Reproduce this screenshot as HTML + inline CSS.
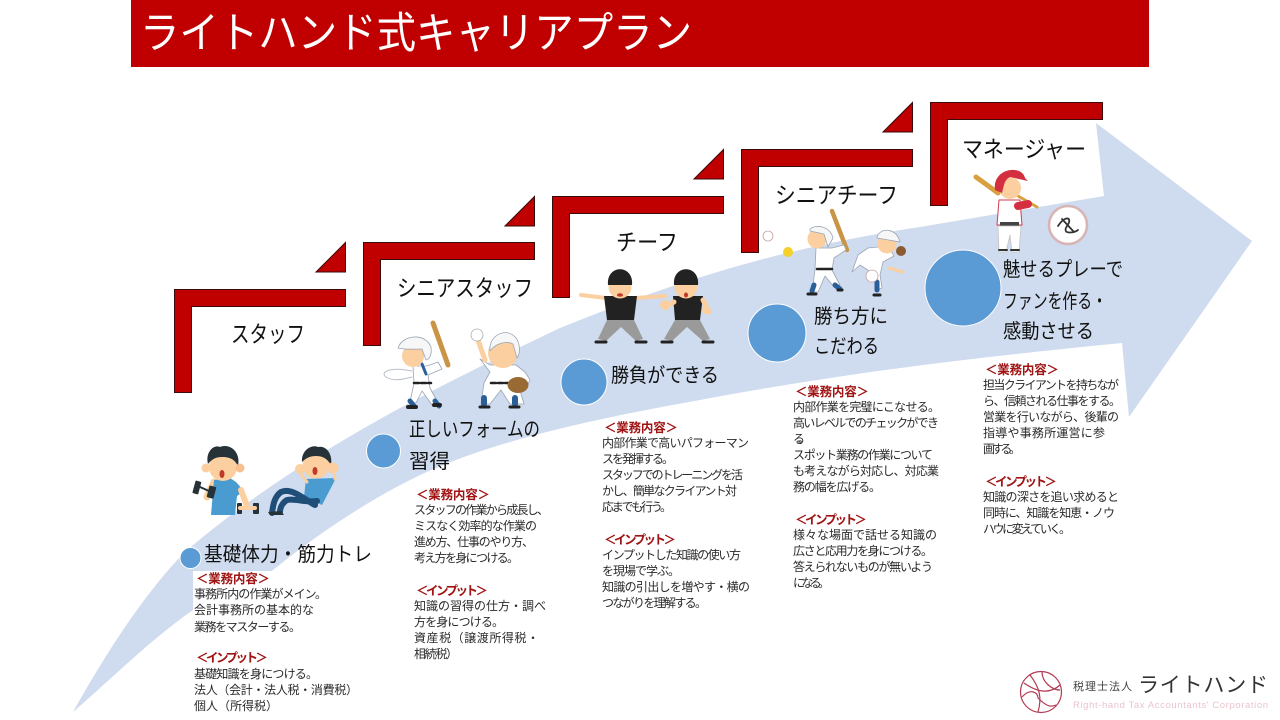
<!DOCTYPE html>
<html lang="ja"><head><meta charset="utf-8"><title>ライトハンド式キャリアプラン</title>
<style>
html,body{margin:0;padding:0;background:#fff;width:1280px;height:720px;overflow:hidden}
svg{display:block}
text{font-family:"Liberation Sans","Noto Sans CJK JP",sans-serif}
.b{font-size:12px;fill:#2a2a2a}
.r{font-size:12.5px;fill:#a01414;font-weight:700}
.h{font-size:23px;fill:#111}
.s{font-size:20px;fill:#111}
</style></head><body>
<svg width="1280" height="720" viewBox="0 0 1280 720" xmlns="http://www.w3.org/2000/svg">
<rect x="131" y="0" width="1018" height="67" fill="#c00000"/>
<text x="140" y="48" font-size="43" fill="#fff" textLength="552" lengthAdjust="spacingAndGlyphs">ライトハンド式キャリアプラン</text>

<path d="M73,712 C105,655 140,600 180,557 C195,543 205,535 227,518 C330,440 440,385 560,328 C690,275 800,245 920,227 L1104,196 L1096,123 L1252,241 L1129,417 L1122,343 C1000,355 860,370 700,400 C600,418 490,440 410,480 C370,500 320,532 273,570 C245,590 215,598 193,610 C150,640 110,680 73,712Z" fill="#cfdbee"/>
<rect x="193" y="571" width="175" height="149" fill="#fff"/>
<rect x="410" y="487" width="150" height="180" fill="#fff"/>
<rect x="600" y="421" width="155" height="195" fill="#fff"/>
<rect x="790" y="384" width="155" height="210" fill="#fff"/>
<rect x="980" y="362" width="142" height="180" fill="#fff"/>

<g fill="#c00000" stroke="#3a0a0a" stroke-width="1">
<path d="M174.500,289.500H345.500V306.500H191.500V392.500H174.500Z"/>
<path d="M316,272L345.500,242.500V272Z"/>
<path d="M363.500,242.500H534.500V259.500H380.500V345.500H363.500Z"/>
<path d="M505,226L534.500,196.500V226Z"/>
<path d="M552.500,196.500H723.500V213.500H569.500V297.500H552.500Z"/>
<path d="M694,179L723.500,149.500V179Z"/>
<path d="M741.500,149.500H912.500V166.500H758.500V252.500H741.500Z"/>
<path d="M883,132L912.500,102.500V132Z"/>
<path d="M930.500,102.500H1102.500V119.500H947.500V205.500H930.500Z"/>
</g>

<g class="h">
<text class="h" x="231" y="342" textLength="74" lengthAdjust="spacingAndGlyphs">スタッフ</text>
<text class="h" x="397" y="296" textLength="136" lengthAdjust="spacingAndGlyphs">シニアスタッフ</text>
<text class="h" x="616" y="250" textLength="62" lengthAdjust="spacingAndGlyphs">チーフ</text>
<text class="h" x="775" y="203" textLength="123" lengthAdjust="spacingAndGlyphs">シニアチーフ</text>
<text class="h" x="962" y="157" textLength="124" lengthAdjust="spacingAndGlyphs">マネージャー</text>
</g>

<g fill="#5b9bd5" stroke="#fff" stroke-width="1">
<circle cx="190.500" cy="558" r="10.500"/>
<circle cx="383.500" cy="451" r="17"/>
<circle cx="584" cy="382" r="23"/>
<circle cx="777" cy="333" r="29"/>
<circle cx="963" cy="288" r="38"/>
</g>

<text class="s" x="204" y="561" textLength="168" lengthAdjust="spacingAndGlyphs">基礎体力・筋力トレ</text>
<text class="s" x="409" y="436" textLength="131" lengthAdjust="spacingAndGlyphs">正しいフォームの</text>
<text class="s" x="409" y="468" textLength="41" lengthAdjust="spacingAndGlyphs">習得</text>
<text class="s" x="611" y="382" textLength="108" lengthAdjust="spacingAndGlyphs">勝負ができる</text>
<text class="s" x="814" y="323" textLength="74" lengthAdjust="spacingAndGlyphs">勝ち方に</text>
<text class="s" x="814" y="353" textLength="65" lengthAdjust="spacingAndGlyphs">こだわる</text>
<text class="s" x="1003" y="276" textLength="120" lengthAdjust="spacingAndGlyphs">魅せるプレーで</text>
<text class="s" x="1003" y="308" textLength="104" lengthAdjust="spacingAndGlyphs">ファンを作る・</text>
<text class="s" x="1003" y="338" textLength="91" lengthAdjust="spacingAndGlyphs">感動させる</text>

<!-- column 1 -->
<text class="r" x="196" y="583" textLength="74">＜業務内容＞</text>
<text class="b" x="194" y="598" textLength="133">事務所内の作業がメイン。</text>
<text class="b" x="194" y="614" textLength="120">会計事務所の基本的な</text>
<text class="b" x="194" y="631" textLength="107">業務をマスターする。</text>
<text class="r" x="196" y="662" textLength="72">＜インプット＞</text>
<text class="b" x="194" y="678" textLength="124">基礎知識を身につける。</text>
<text class="b" x="194" y="694" textLength="164">法人（会計・法人税・消費税）</text>
<text class="b" x="194" y="710" textLength="84">個人（所得税）</text>

<!-- column 2 -->
<text class="r" x="416" y="499" textLength="74">＜業務内容＞</text>
<text class="b" x="414" y="514" textLength="135">スタッフの作業から成長し、</text>
<text class="b" x="414" y="530" textLength="123">ミスなく効率的な作業の</text>
<text class="b" x="414" y="546" textLength="120">進め方、仕事のやり方、</text>
<text class="b" x="414" y="562" textLength="105">考え方を身につける。</text>
<text class="r" x="416" y="595" textLength="72">＜インプット＞</text>
<text class="b" x="414" y="610" textLength="132">知識の習得の仕方・調べ</text>
<text class="b" x="414" y="626" textLength="90">方を身につける。</text>
<text class="b" x="414" y="642" textLength="125">資産税（譲渡所得税・</text>
<text class="b" x="414" y="658" textLength="44">相続税）</text>

<!-- column 3 -->
<text class="r" x="604" y="432" textLength="74">＜業務内容＞</text>
<text class="b" x="602" y="447" textLength="147">内部作業で高いパフォーマン</text>
<text class="b" x="602" y="463" textLength="72">スを発揮する。</text>
<text class="b" x="602" y="479" textLength="141">スタッフでのトレーニングを活</text>
<text class="b" x="602" y="495" textLength="135">かし、簡単なクライアント対</text>
<text class="b" x="602" y="511" textLength="70">応までも行う。</text>
<text class="r" x="604" y="544" textLength="72">＜インプット＞</text>
<text class="b" x="602" y="559" textLength="139">インプットした知識の使い方</text>
<text class="b" x="602" y="575" textLength="78">を現場で学ぶ。</text>
<text class="b" x="602" y="591" textLength="148">知識の引出しを増やす・横の</text>
<text class="b" x="602" y="607" textLength="105">つながりを理解する。</text>

<!-- column 4 -->
<text class="r" x="795" y="396" textLength="74">＜業務内容＞</text>
<text class="b" x="793" y="411" textLength="147">内部作業を完璧にこなせる。</text>
<text class="b" x="793" y="427" textLength="146">高いレベルでのチェックができ</text>
<text class="b" x="793" y="443" textLength="17">る。</text>
<text class="b" x="793" y="459" textLength="140">スポット業務の作業について</text>
<text class="b" x="793" y="475" textLength="146">も考えながら対応し、対応業</text>
<text class="b" x="793" y="491" textLength="88">務の幅を広げる。</text>
<text class="r" x="795" y="524" textLength="72">＜インプット＞</text>
<text class="b" x="793" y="539" textLength="144">様々な場面で話せる知識の</text>
<text class="b" x="793" y="555" textLength="140">広さと応用力を身につける。</text>
<text class="b" x="793" y="571" textLength="140">答えられないものが無いよう</text>
<text class="b" x="793" y="587" textLength="37">になる。</text>

<!-- column 5 -->
<text class="r" x="985" y="374" textLength="74">＜業務内容＞</text>
<text class="b" x="983" y="389" textLength="136">担当クライアントを持ちなが</text>
<text class="b" x="983" y="405" textLength="138">ら、信頼される仕事をする。</text>
<text class="b" x="983" y="421" textLength="136">営業を行いながら、後輩の</text>
<text class="b" x="983" y="437" textLength="122">指導や事務所運営に参</text>
<text class="b" x="983" y="453" textLength="38">画する。</text>
<text class="r" x="985" y="486" textLength="72">＜インプット＞</text>
<text class="b" x="983" y="501" textLength="136">知識の深さを追い求めると</text>
<text class="b" x="983" y="517" textLength="132">同時に、知識を知恵・ノウ</text>
<text class="b" x="983" y="533" textLength="88">ハウに変えていく。</text>

<!-- staff figures -->
<g stroke-linecap="round" stroke-linejoin="round">
<path d="M207,497L214,482" stroke="#fbcf9f" stroke-width="7" fill="none"/>
<path d="M214,480L230,478L236,482L244,491L237,496L235,515H211Z" fill="#4a9bd0"/>
<path d="M241,490L247,506" stroke="#fbcf9f" stroke-width="6" fill="none"/>
<rect x="194" y="481" width="6" height="13" rx="1" fill="#263238" transform="rotate(15 197 487)"/>
<rect x="208" y="486" width="7" height="12" rx="1" fill="#263238" transform="rotate(15 211 492)"/>
<path d="M200,487L209,491" stroke="#263238" stroke-width="2"/>
<rect x="237" y="503" width="5" height="11" rx="1" fill="#263238"/><rect x="253" y="503" width="6" height="11" rx="1" fill="#263238"/>
<path d="M240,508H255" stroke="#fbcf9f" stroke-width="4"/>
<circle cx="223" cy="467" r="14" fill="#fbcf9f"/>
<path d="M208,464C205,452 214,444 220,447C230,443 241,452 238,466C234,458 228,457 222,457C216,457 212,459 208,464Z" fill="#263238"/>
<circle cx="206" cy="468" r="4.500" fill="#fbcf9f"/><circle cx="240" cy="468" r="4.500" fill="#f8bf90"/>
<ellipse cx="222" cy="474" rx="2.500" ry="4" fill="#c0392b"/>
<path d="M306,479L336,478L322,505L304,497Z" fill="#4a9bd0"/>
<path d="M315,505C305,500 292,487 281,492C274,497 273,506 272,513M317,501C305,503 295,498 287,500C282,503 280,508 280,512" fill="none" stroke="#1f4e79" stroke-width="6"/>
<path d="M268,512L281,511L284,515H270Z" fill="#263238"/>
<circle cx="316" cy="465" r="13.500" fill="#fbcf9f"/>
<path d="M302,462C301,450 312,444 318,447C326,445 333,454 331,465C327,458 322,456 316,456C310,456 306,458 302,462Z" fill="#263238"/>
<ellipse cx="315" cy="471" rx="2.500" ry="4" fill="#c0392b"/><circle cx="333" cy="468" r="5.500" fill="#fbcf9f"/><circle cx="300" cy="469" r="5" fill="#fbcf9f"/>
<path d="M299,472L307,482M334,472L335,479" stroke="#fbcf9f" stroke-width="3"/>
</g>

<!-- senior staff figures -->
<g stroke-linecap="round" stroke-linejoin="round">
<path d="M412,371C388,366 380,373 386,377C394,382 404,379 412,377" fill="none" stroke="#b9bfc9" stroke-width="1"/>
<path d="M433,323L448,365" stroke="#c99445" stroke-width="5" fill="none"/>
<path d="M413,366H427L438,362L442,369L428,375L430,388L438,403L432,405L422,391L416,403L410,402L414,383Z" fill="#fff" stroke="#9aa5b5" stroke-width=".8"/>
<path d="M410,401L414,406M435,401L439,406" stroke="#2a5f99" stroke-width="5" fill="none"/>
<path d="M408,407H416M434,405H440" stroke="#222" stroke-width="4"/>
<path d="M414,383H431" stroke="#222" stroke-width="2.500" stroke-dasharray="5 2" fill="none"/>
<path d="M422,364L426,374" stroke="#2a5f99" stroke-width="3"/>
<circle cx="413" cy="356" r="11" fill="#fbcf9f"/>
<path d="M398,348C402,335 425,332 431,347C432,354 430,359 426,360L422,349C414,349 405,350 398,348Z" fill="#f7f7f7" stroke="#9aa5b5" stroke-width=".8"/>
<path d="M480,359L490,365H516L525,372L530,380L525,390L522,392L518,384L524,404H510L501,390L490,404H481L484,383L490,372Z" fill="#fff" stroke="#9aa5b5" stroke-width=".8"/>
<path d="M484,398V404M515,398V404" stroke="#2a5f99" stroke-width="6" fill="none"/>
<path d="M480,407H489M510,407H519" stroke="#222" stroke-width="3"/>
<path d="M491,383H509" stroke="#222" stroke-width="2.500" stroke-dasharray="5 2" fill="none"/>
<path d="M478,340L485,360" stroke="#fbcf9f" stroke-width="5"/>
<circle cx="477" cy="335" r="6" fill="#fff" stroke="#a8aeb7" stroke-width=".8"/>
<circle cx="503" cy="353" r="15" fill="#fbcf9f"/>
<path d="M490,351C488,331 515,325 519,345C520,350 519,355 517,358L513,344C506,340 495,344 490,351Z" fill="#f7f7f7" stroke="#9aa5b5" stroke-width=".8"/>
<ellipse cx="518" cy="385" rx="10.500" ry="8" fill="#9a6a35"/>
</g>

<!-- chief umpires -->
<g stroke-linecap="round" stroke-linejoin="round">
<path d="M581,295L606,298M636,298L665,296" stroke="#fbcf9f" stroke-width="4" fill="none"/>
<path d="M604,296H637L634,320H607Z" fill="#222"/>
<path d="M607,320H634L643,339L636,341L621,327L606,341L598,339Z" fill="#9a9a9a"/>
<path d="M596,342H606M636,342H646" stroke="#222" stroke-width="3"/>
<circle cx="620" cy="287" r="11.500" fill="#fbcf9f"/><path d="M608,285C606,264 634,264 632,285Z" fill="#222"/>
<ellipse cx="620" cy="295" rx="3" ry="1.800" fill="#c0392b"/>
<path d="M673,296H703L700,320H675Z" fill="#222"/>
<path d="M675,320H700L710,339L703,341L687,327L672,341L664,339Z" fill="#9a9a9a"/>
<path d="M662,342H672M703,342H713" stroke="#222" stroke-width="3"/>
<circle cx="686" cy="287" r="11.500" fill="#fbcf9f"/><path d="M674,285C672,264 700,264 698,285Z" fill="#222"/>
<ellipse cx="686" cy="295" rx="2" ry="2.500" fill="#c0392b"/>
<path d="M703,300L709,312M674,302L668,305" stroke="#fbcf9f" stroke-width="5" fill="none"/>
<circle cx="665" cy="305" r="5" fill="#fbcf9f"/>
<circle cx="706" cy="310" r="4" fill="#fbcf9f"/>
</g>

<!-- senior chief figures -->
<g stroke-linecap="round" stroke-linejoin="round">
<circle cx="768" cy="236" r="5" fill="#fff" stroke="#c9a0a0" stroke-width=".8"/>
<circle cx="788" cy="252" r="5" fill="#f5cf2a"/>
<path d="M832,211L847,250" stroke="#c99445" stroke-width="4.500" fill="none"/>
<path d="M816,248H832L844,245L846,250L834,258L832,270L840,285L834,287L825,276L818,292H812L815,270Z" fill="#fff" stroke="#9aa5b5" stroke-width=".8"/>
<path d="M814,285L812,291M835,285L840,289" stroke="#2a5f99" stroke-width="5" fill="none"/>
<path d="M808,294H816M838,290H842" stroke="#222" stroke-width="3"/>
<path d="M817,269H832" stroke="#222" stroke-width="2.500"/>
<circle cx="817" cy="239" r="9.500" fill="#fbcf9f"/>
<path d="M810,229C816,224 830,226 833,238L828,247L824,234L810,231Z" fill="#f7f7f7" stroke="#9aa5b5" stroke-width=".8"/>
<path d="M868,248L888,246L894,256L883,262L880,275L882,288L877,290L874,274L860,265L852,272L858,255Z" fill="#fff" stroke="#9aa5b5" stroke-width=".8"/>
<path d="M877,282L877,290" stroke="#2a5f99" stroke-width="5"/>
<path d="M874,295H880" stroke="#222" stroke-width="3"/>
<path d="M889,268L903,272" stroke="#fbcf9f" stroke-width="3"/>
<circle cx="887" cy="244" r="9.500" fill="#fbcf9f"/>
<path d="M877,238C878,228 896,226 900,242Z" fill="#f7f7f7" stroke="#9aa5b5" stroke-width=".8"/>
<circle cx="901" cy="251" r="5" fill="#8a5a30"/>
<circle cx="872" cy="276" r="6" fill="#fff" stroke="#c9a0a0" stroke-width=".8"/>
</g>

<!-- manager figure -->
<g stroke-linecap="round" stroke-linejoin="round">
<path d="M976,177L998,193" stroke="#d9a040" stroke-width="5"/>
<path d="M1018,196L1037,207" stroke="#d9a040" stroke-width="3"/>
<path d="M999,200H1020L1022,225H997Z" fill="#fff" stroke="#d63a4a" stroke-width="1"/>
<path d="M1000,222H1019V226H1000Z" fill="#444"/>
<path d="M998,226H1021L1019,252H1012L1010,235L1006,252H999Z" fill="#fff" stroke="#c4c4c4" stroke-width=".8"/>
<path d="M999,250H1007M1011,250H1019" stroke="#333" stroke-width="2"/>
<circle cx="1010" cy="188" r="11" fill="#fbcf9f"/>
<path d="M995,190C992,168 1022,164 1025,178L1028,181L1010,177C1004,180 1004,186 1002,193Z" fill="#d32f3f"/>
<path d="M1018,206L1028,204" stroke="#d32f3f" stroke-width="8"/>
<circle cx="1068" cy="225" r="19" fill="#fff" stroke="#d8b4b4" stroke-width="2.500"/>
<path d="M1058,226C1066,214 1073,218 1067,226C1061,235 1075,233 1078,230M1062,219L1074,232" fill="none" stroke="#333" stroke-width="1.800"/>
</g>

<!-- logo -->
<g fill="none" stroke="#b23a52" stroke-width="1.200">
<circle cx="1041" cy="692" r="20.500"/>
<path d="M1030,675C1040,688 1042,698 1038,712M1024,683C1034,690 1048,696 1060,685M1038,698C1045,705 1050,708 1056,705M1042,672C1042,682 1052,690 1060,690M1022,697C1030,688 1038,692 1038,698"/>
</g>
<text x="1073" y="690" font-size="11" fill="#444" textLength="59">税理士法人</text>
<text x="1138" y="692" font-size="21" fill="#333" textLength="130" lengthAdjust="spacing">ライトハンド</text>
<text x="1073" y="708" font-size="9.500" fill="#e9c4cc" textLength="195" lengthAdjust="spacing">Right-hand Tax Accountants' Corporation</text>
</svg>
</body></html>
